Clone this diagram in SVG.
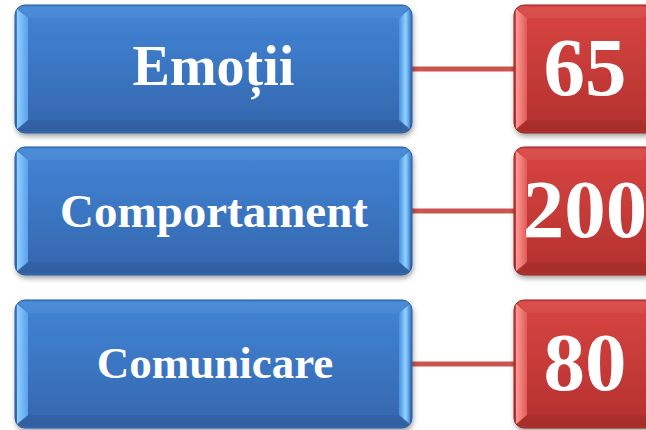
<svg xmlns="http://www.w3.org/2000/svg" width="646" height="430" viewBox="0 0 646 430">
<defs>
<linearGradient id="gBlue" x1="0" y1="0" x2="0" y2="1"><stop offset="0" stop-color="#4185d6"/><stop offset="1" stop-color="#3466ad"/></linearGradient>
<linearGradient id="gRed" x1="0" y1="0" x2="0" y2="1"><stop offset="0" stop-color="#d84542"/><stop offset="1" stop-color="#b3302e"/></linearGradient>
<linearGradient id="gBlueL" x1="0" y1="0" x2="1" y2="0"><stop offset="0" stop-color="#8fd0ff"/><stop offset="1" stop-color="#5aa0ec"/></linearGradient>
<linearGradient id="gBlueR" x1="0" y1="0" x2="1" y2="0"><stop offset="0" stop-color="#4a8ee0"/><stop offset="0.6" stop-color="#8fd4ff"/><stop offset="1" stop-color="#4a88d4"/></linearGradient>
<linearGradient id="gRedL" x1="0" y1="0" x2="1" y2="0"><stop offset="0" stop-color="#ff9a96"/><stop offset="1" stop-color="#e05a56"/></linearGradient>
<filter id="sh" x="-10%" y="-10%" width="120%" height="130%"><feDropShadow dx="1" dy="3" stdDeviation="2.5" flood-color="#000" flood-opacity="0.35"/></filter>
</defs>
<style>
.lbl{font-family:"Liberation Serif","Times New Roman",serif;font-weight:bold;fill:#fff;text-anchor:middle}
.con{stroke:#cc5450;stroke-width:5;fill:none}
.top{fill:#fff;opacity:0.06}
.bot{fill:#000;opacity:0.07}
</style>
<g id="connectors">
<line class="con" x1="410" y1="69" x2="516" y2="69"/>
<line class="con" x1="410" y1="211" x2="516" y2="211"/>
<line class="con" x1="410" y1="364" x2="516" y2="364"/>
</g>
<g id="node-emotii">
<rect x="15" y="5" width="397" height="128" rx="10" fill="url(#gBlue)" stroke="#2d5a98" stroke-width="1" filter="url(#sh)"/>
<polygon class="top" points="18,7 409,7 399,18 28,18"/>
<polygon class="bot" points="28,120 399,120 409,131 18,131"/>
<polygon points="17,9 28,18 28,120 17,129" fill="url(#gBlueL)"/>
<polygon points="399,18 410,9 410,129 399,120" fill="url(#gBlueR)"/>
<text class="lbl" x="213.5" y="85" font-size="56">Emoții</text>
</g>
<g id="node-comportament">
<rect x="15" y="147" width="397" height="128" rx="10" fill="url(#gBlue)" stroke="#2d5a98" stroke-width="1" filter="url(#sh)"/>
<polygon class="top" points="18,149 409,149 399,160 28,160"/>
<polygon class="bot" points="28,262 399,262 409,273 18,273"/>
<polygon points="17,151 28,160 28,262 17,271" fill="url(#gBlueL)"/>
<polygon points="399,160 410,151 410,271 399,262" fill="url(#gBlueR)"/>
<text class="lbl" x="214" y="227" font-size="47">Comportament</text>
</g>
<g id="node-comunicare">
<rect x="15" y="300" width="397" height="128" rx="10" fill="url(#gBlue)" stroke="#2d5a98" stroke-width="1" filter="url(#sh)"/>
<polygon class="top" points="18,302 409,302 399,313 28,313"/>
<polygon class="bot" points="28,415 399,415 409,426 18,426"/>
<polygon points="17,304 28,313 28,415 17,424" fill="url(#gBlueL)"/>
<polygon points="399,313 410,304 410,424 399,415" fill="url(#gBlueR)"/>
<text class="lbl" x="215" y="378" font-size="45">Comunicare</text>
</g>
<g id="node-65">
<rect x="514" y="5" width="142" height="128" rx="10" fill="url(#gRed)" stroke="#8f2624" stroke-width="1" filter="url(#sh)"/>
<polygon class="top" points="517,7 653,7 643,18 527,18"/>
<polygon class="bot" points="527,120 643,120 653,131 517,131"/>
<polygon points="516,9 527,18 527,120 516,129" fill="url(#gRedL)"/>
<text class="lbl" x="585" y="95" font-size="83">65</text>
</g>
<g id="node-200">
<rect x="514" y="147" width="142" height="128" rx="10" fill="url(#gRed)" stroke="#8f2624" stroke-width="1" filter="url(#sh)"/>
<polygon class="top" points="517,149 653,149 643,160 527,160"/>
<polygon class="bot" points="527,262 643,262 653,273 517,273"/>
<polygon points="516,151 527,160 527,262 516,271" fill="url(#gRedL)"/>
<text class="lbl" x="585" y="237" font-size="83">200</text>
</g>
<g id="node-80">
<rect x="514" y="300" width="142" height="128" rx="10" fill="url(#gRed)" stroke="#8f2624" stroke-width="1" filter="url(#sh)"/>
<polygon class="top" points="517,302 653,302 643,313 527,313"/>
<polygon class="bot" points="527,415 643,415 653,426 517,426"/>
<polygon points="516,304 527,313 527,415 516,424" fill="url(#gRedL)"/>
<text class="lbl" x="585" y="390" font-size="83">80</text>
</g>
</svg>
